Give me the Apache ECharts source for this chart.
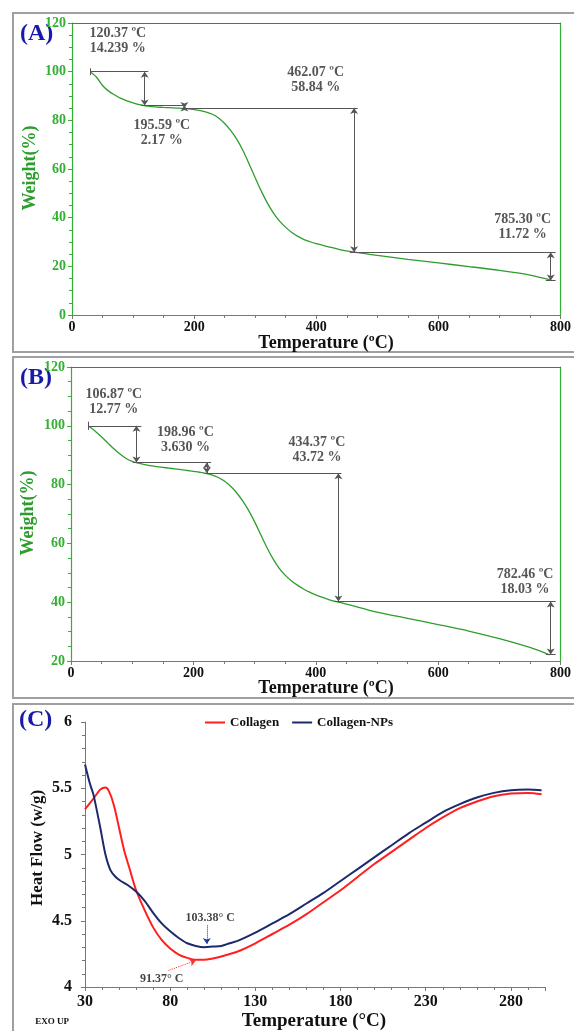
<!DOCTYPE html>
<html><head><meta charset="utf-8">
<script src="https://cdn.jsdelivr.net/npm/echarts/dist/echarts.min.js"></script>
<style>html,body{margin:0;padding:0;background:#fff}#c{width:574px;height:1031px}</style>
</head><body><div id="c"></div>
<script>
// ---------- Panel A : TGA ----------
const tempA = [30,40,50,60,70,80,90,100,110,120,130,140,150,160,170,180,190,200,210,220,230,240,250,260,270,280,290,300,310,320,330,340,350,360,370,380,390,400,420,440,460,480,500,550,600,650,700,750,785];
const weightA = [100,97.8,94.3,92.0,90.4,89.0,88.0,87.2,86.5,85.9,85.6,85.45,85.3,85.2,85.05,84.9,84.7,84.4,84.0,83.4,82.5,81.0,78.7,75.8,72.2,67.6,62.1,56.4,50.9,46.0,41.9,38.6,36.0,33.9,32.3,31.0,30.1,29.3,28.0,26.8,25.9,25.2,24.5,22.9,21.4,19.9,18.3,16.4,14.3];
// guide lines [t1,w1,t2,w2] and double arrows, in data units
const guidesA = [[30,100,125,100],[113,86.1,186,86.1],[180,85.1,468,85.1],[455,25.8,792,25.8],[776,14.2,792,14.2],[30,98.6,30,101.4]];
const arrowsA = [[119,100,119,86.1],[184,86.1,184,85.1],[462,85.1,462,25.8],[784,25.8,784,14.2]];
const notesA = [["120.37 ºC\n14.239 %",75,112.7],["195.59 ºC\n2.17 %",147,75],["462.07 ºC\n58.84 %",399,96.5],["785.30 ºC\n11.72 %",738,36.3]];

// ---------- Panel B : TGA ----------
const tempB = [28,40,50,60,70,80,90,100,110,120,130,140,150,160,170,180,190,200,210,220,230,240,250,260,270,280,290,300,310,320,330,340,350,360,370,380,390,400,410,420,430,440,460,480,500,550,600,650,700,750,782];
const weightB = [100,98.1,96.2,94.2,92.2,90.4,88.9,87.9,87.3,86.8,86.45,86.1,85.85,85.6,85.35,85.1,84.8,84.5,84.2,83.85,83.3,82.5,81.3,79.6,77.4,74.6,71.3,67.4,63.0,58.7,54.8,51.6,49.2,47.3,45.8,44.5,43.4,42.5,41.7,41.0,40.4,39.9,38.8,37.7,36.6,34.5,32.4,30.2,27.6,24.6,22.1];
const guidesB = [[28,100,115,100],[101,87.5,229,87.5],[218,83.9,442,83.9],[430,40.2,792,40.2],[776,22.2,792,22.2],[28,98.6,28,101.4]];
const arrowsB = [[107,100,107,87.5],[222,87.5,222,83.9],[437,83.9,437,40.2],[784,40.2,784,22.2]];
const notesB = [["106.87 ºC\n12.77 %",70,108.1],["198.96 ºC\n3.630 %",187,95.3],["434.37 ºC\n43.72 %",402,91.8],["782.46 ºC\n18.03 %",742,46.9]];

// ---------- Panel C : DSC ----------
const tempRed = [30,33,36,39,42,44,47,50,53,56,60,65,70,75,80,85,90,95,100,105,110,120,130,140,150,160,170,180,190,200,210,220,230,240,250,260,270,280,290,298];
const flowRed = [5.34,5.39,5.44,5.49,5.505,5.48,5.37,5.20,5.03,4.90,4.73,4.58,4.45,4.355,4.29,4.245,4.22,4.205,4.205,4.215,4.23,4.27,4.33,4.40,4.47,4.55,4.64,4.73,4.83,4.93,5.02,5.11,5.20,5.28,5.35,5.40,5.44,5.46,5.465,5.455];
const tempBlue = [30,33,35,39,42,45,48,51,55,60,65,70,75,80,85,90,95,100,105,110,115,120,130,140,150,160,170,180,190,200,210,220,230,240,250,260,270,280,290,298];
const flowBlue = [5.68,5.53,5.45,5.20,5.00,4.88,4.83,4.80,4.77,4.72,4.65,4.56,4.48,4.42,4.37,4.33,4.31,4.30,4.305,4.31,4.33,4.35,4.41,4.48,4.55,4.63,4.71,4.80,4.89,4.98,5.07,5.16,5.24,5.32,5.38,5.43,5.465,5.485,5.49,5.485];
const peakBlue = ["103.38° C",103.5,4.52,[101.5,4.465,101.5,4.325]];
const peakRed = ["91.37° C",75,4.06,[79,4.125,95,4.2]];

const SERIF = '"Liberation Serif","Times New Roman",serif';
const GREEN = '#2e9d2e', LGREEN = '#34b034', GRAY = '#777';
const zip = (a,b)=>a.map((v,i)=>[v,b[i]]);
const seg = (s, arrow)=>[{coord:[s[0],s[1]], symbol: arrow?'arrow':'none', symbolSize:6},{coord:[s[2],s[3]], symbol: arrow?'arrow':'none', symbolSize:6}];

function tgaX(grid, pos){
  const top = pos==='top';
  return {gridIndex:grid, type:'value', position:pos, min:0, max:800, interval:200,
    axisLine:{show:true, onZero:false, lineStyle:{color:top?'#666':GRAY, width:1}},
    axisTick:{show:!top, length:4, lineStyle:{color:GRAY}},
    minorTick:{show:!top, splitNumber:4, length:3, lineStyle:{color:GRAY}},
    splitLine:{show:false},
    axisLabel:{show:!top, color:'#111', fontFamily:SERIF, fontWeight:'bold', fontSize:14, margin:5}};
}
function tgaY(grid, pos, min){
  const right = pos==='right';
  return {gridIndex:grid, type:'value', position:pos, min:min, max:120, interval:20,
    axisLine:{show:true, onZero:false, lineStyle:{color:LGREEN, width:1.2}},
    axisTick:{show:!right, length:4, lineStyle:{color:LGREEN}},
    minorTick:{show:!right, splitNumber:4, length:3, lineStyle:{color:LGREEN}},
    splitLine:{show:false},
    axisLabel:{show:!right, color:LGREEN, fontFamily:SERIF, fontWeight:'bold', fontSize:14, margin:6}};
}
function noteSeries(xi, yi, notes, size, color){
  return {type:'scatter', xAxisIndex:xi, yAxisIndex:yi, silent:true, symbolSize:1,
    itemStyle:{color:'rgba(0,0,0,0)'},
    data:notes.map(n=>({name:n[0], value:[n[1],n[2]]})),
    label:{show:true, position:'inside', formatter:'{b}', color:color, fontFamily:SERIF,
      fontSize:size, fontWeight:'bold', lineHeight:size+1, align:'center'}};
}
function tgaSeries(xi, yi, t, w, guides, arrows){
  return {type:'line', xAxisIndex:xi, yAxisIndex:yi, data:zip(t,w), showSymbol:false, smooth:0.3,
    lineStyle:{color:GREEN, width:1.3}, z:3,
    markLine:{silent:true, animation:false, label:{show:false},
      lineStyle:{color:'#555', width:1, type:'solid'},
      data: guides.map(g=>seg(g,false)).concat(arrows.map(a=>seg(a,true)))}};
}

const option = {
  animation:false,
  backgroundColor:'#fff',
  grid:[
    {left:72, top:23, width:491, height:292},
    {left:71, top:367, width:492, height:294},
    {left:85, top:722, width:460, height:265}
  ],
  legend:{data:['Collagen','Collagen-NPs'], top:711, left:200, icon:'rect', itemWidth:20, itemHeight:2, itemGap:13,
    textStyle:{fontFamily:SERIF, fontWeight:'bold', fontSize:13, color:'#111'}},
  xAxis:[
    tgaX(0,'bottom'), tgaX(0,'top'), tgaX(1,'bottom'), tgaX(1,'top'),
    {gridIndex:2, type:'value', min:30, max:300, interval:50,
      axisLine:{lineStyle:{color:GRAY}}, axisTick:{length:4, lineStyle:{color:GRAY}},
      minorTick:{show:true, splitNumber:5, length:3, lineStyle:{color:GRAY}},
      splitLine:{show:false},
      axisLabel:{showMaxLabel:false, color:'#111', fontFamily:SERIF, fontWeight:'bold', fontSize:16, margin:7}}
  ],
  yAxis:[
    tgaY(0,'left',0), tgaY(0,'right',0), tgaY(1,'left',20), tgaY(1,'right',20),
    {gridIndex:2, type:'value', min:4, max:6, interval:0.5,
      axisLine:{show:true, lineStyle:{color:GRAY}}, axisTick:{show:true, length:4, lineStyle:{color:GRAY}},
      minorTick:{show:true, splitNumber:5, length:3, lineStyle:{color:GRAY}},
      splitLine:{show:false},
      axisLabel:{color:'#111', fontFamily:SERIF, fontWeight:'bold', fontSize:16, margin:13}}
  ],
  series:[
    tgaSeries(0,0,tempA,weightA,guidesA,arrowsA),
    noteSeries(0,0,notesA,14,'#2a2a2a'),
    tgaSeries(2,2,tempB,weightB,guidesB,arrowsB),
    noteSeries(2,2,notesB,14,'#2a2a2a'),
    {name:'Collagen', type:'line', xAxisIndex:4, yAxisIndex:4, data:zip(tempRed,flowRed), showSymbol:false, smooth:0.3,
      itemStyle:{color:'#ff1f1f'}, lineStyle:{color:'#ff1f1f', width:2},
      markLine:{silent:true, animation:false, label:{show:false}, lineStyle:{color:'#ff3030', width:1, type:'dotted'},
        data:[[{coord:[peakRed[3][0],peakRed[3][1]],symbol:'none'},{coord:[peakRed[3][2],peakRed[3][3]],symbol:'arrow',symbolSize:6}]]}},
    {name:'Collagen-NPs', type:'line', xAxisIndex:4, yAxisIndex:4, data:zip(tempBlue,flowBlue), showSymbol:false, smooth:0.3,
      itemStyle:{color:'#1b2a6b'}, lineStyle:{color:'#1b2a6b', width:2},
      markLine:{silent:true, animation:false, label:{show:false}, lineStyle:{color:'#1b3a9b', width:1, type:'dotted'},
        data:[[{coord:[peakBlue[3][0],peakBlue[3][1]],symbol:'none'},{coord:[peakBlue[3][2],peakBlue[3][3]],symbol:'arrow',symbolSize:6}]]}},
    noteSeries(4,4,[peakBlue,peakRed],12,'#111')
  ],
  graphic:[
    {type:'rect', shape:{x:13,y:13,width:600,height:339}, style:{fill:'none', stroke:'#a0a0a0', lineWidth:2}, z:-10},
    {type:'rect', shape:{x:13,y:357,width:600,height:341}, style:{fill:'none', stroke:'#a0a0a0', lineWidth:2}, z:-10},
    {type:'rect', shape:{x:13,y:704,width:600,height:400}, style:{fill:'none', stroke:'#a0a0a0', lineWidth:2}, z:-10},
    {type:'text', x:20, y:22, style:{text:'(A)', fill:'#1a1aa8', font:'bold 24px '+SERIF}},
    {type:'text', x:20, y:366, style:{text:'(B)', fill:'#1a1aa8', font:'bold 24px '+SERIF}},
    {type:'text', x:19, y:708, style:{text:'(C)', fill:'#1a1aa8', font:'bold 24px '+SERIF}},
    {type:'text', x:30, y:168, rotation:Math.PI/2, style:{text:'Weight(%)', fill:GREEN, font:'bold 18px '+SERIF, align:'center', verticalAlign:'middle'}},
    {type:'text', x:28, y:513, rotation:Math.PI/2, style:{text:'Weight(%)', fill:GREEN, font:'bold 18px '+SERIF, align:'center', verticalAlign:'middle'}},
    {type:'text', x:326, y:343, style:{text:'Temperature (ºC)', fill:'#111', font:'bold 18px '+SERIF, align:'center', verticalAlign:'middle'}},
    {type:'text', x:326, y:688, style:{text:'Temperature (ºC)', fill:'#111', font:'bold 18px '+SERIF, align:'center', verticalAlign:'middle'}},
    {type:'text', x:38, y:848, rotation:Math.PI/2, style:{text:'Heat Flow (w/g)', fill:'#111', font:'bold 17px '+SERIF, align:'center', verticalAlign:'middle'}},
    {type:'text', x:314, y:1021, style:{text:'Temperature (°C)', fill:'#111', font:'bold 19px '+SERIF, align:'center', verticalAlign:'middle'}},
    {type:'text', x:52, y:1022, style:{text:'EXO UP', fill:'#111', font:'bold 9px '+SERIF, align:'center', verticalAlign:'middle'}}
  ]
};
const chart = echarts.init(document.getElementById('c'), null, {renderer:'canvas'});
chart.setOption(option);
</script></body></html>
